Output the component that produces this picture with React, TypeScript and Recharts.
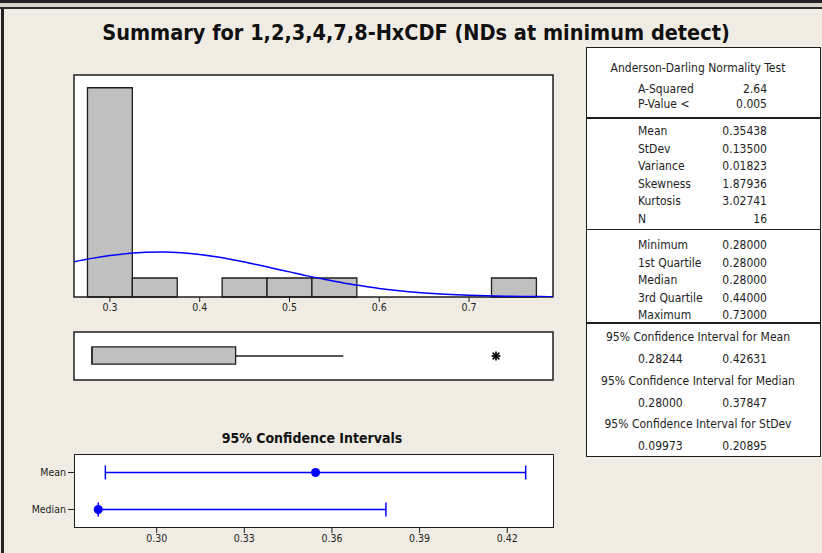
import React from "react";
import {
  ComposedChart,
  ScatterChart,
  Scatter,
  ErrorBar,
  Line,
  XAxis,
  YAxis,
  CartesianGrid,
  ReferenceArea,
  ReferenceLine,
} from "recharts";

// histogram bins (width 0.05) and counts
const binStarts = [0.275, 0.325, 0.375, 0.425, 0.475, 0.525, 0.575, 0.625, 0.675, 0.725];
const binCounts = [11, 1, 0, 1, 1, 1, 0, 0, 0, 1];
const binWidth = 0.05;

// fitted normal curve (in counts)
const curveX = [0.26, 0.28, 0.3, 0.32, 0.34, 0.36, 0.38, 0.4, 0.42, 0.44, 0.46, 0.48, 0.5, 0.52, 0.54, 0.56, 0.58, 0.6, 0.62, 0.64, 0.66, 0.68, 0.7, 0.72, 0.74, 0.76, 0.78, 0.7935];
const curveY = [1.85, 2.03, 2.18, 2.29, 2.35, 2.36, 2.32, 2.23, 2.1, 1.93, 1.74, 1.53, 1.32, 1.11, 0.92, 0.74, 0.59, 0.45, 0.34, 0.25, 0.18, 0.13, 0.09, 0.06, 0.04, 0.03, 0.02, 0.01];

const histDomain = [0.26, 0.7935];
const histTicks = [0.3, 0.4, 0.5, 0.6, 0.7];
const countMax = 11.67;

// boxplot
const boxQ1 = 0.28;
const boxMedian = 0.28;
const boxQ3 = 0.44;
const whiskerLow = 0.28;
const whiskerHigh = 0.56;
const outliers = [0.73];

// confidence intervals
const ciNames = ["Mean", "Median"];
const ciEstimates = [0.35438, 0.28];
const ciLows = [0.28244, 0.28];
const ciHighs = [0.42631, 0.37847];
const ciDomain = [0.2717, 0.436];
const ciTicks = [0.3, 0.33, 0.36, 0.39, 0.42];

// summary table
const adRows = [
  ["A-Squared", "2.64"],
  ["P-Value <", "0.005"],
];
const momentRows = [
  ["Mean", "0.35438"],
  ["StDev", "0.13500"],
  ["Variance", "0.01823"],
  ["Skewness", "1.87936"],
  ["Kurtosis", "3.02741"],
  ["N", "16"],
];
const quantileRows = [
  ["Minimum", "0.28000"],
  ["1st Quartile", "0.28000"],
  ["Median", "0.28000"],
  ["3rd Quartile", "0.44000"],
  ["Maximum", "0.73000"],
];
const ciTableTitles = [
  "95% Confidence Interval for Mean",
  "95% Confidence Interval for Median",
  "95% Confidence Interval for StDev",
];
const ciTableLows = ["0.28244", "0.28000", "0.09973"];
const ciTableHighs = ["0.42631", "0.37847", "0.20895"];

const FONT = "'DejaVu Sans Condensed', 'DejaVu Sans', sans-serif";
const INK = "#1e1e1e";
const BG = "#F0ECE3";

const curveData = curveX.map((x, i) => ({ x, y: curveY[i] }));
const outlierData = outliers.map((x) => ({ x, y: 0.5 }));
const ciData = ciNames.map((name, i) => ({
  name,
  est: ciEstimates[i],
  err: [ciEstimates[i] - ciLows[i], ciHighs[i] - ciEstimates[i]],
}));

const tickStyle = { fontSize: 10.5, fill: INK, fontFamily: FONT };

// Minitab style asterisk for outliers
const Asterisk = (props: any) => {
  const { cx, cy } = props;
  const r = 4.5;
  return (
    <g stroke="#000" strokeWidth={1.6}>
      <line x1={cx} y1={cy - r} x2={cx} y2={cy + r} />
      <line x1={cx - r} y1={cy} x2={cx + r} y2={cy} />
      <line x1={cx - r * 0.75} y1={cy - r * 0.75} x2={cx + r * 0.75} y2={cy + r * 0.75} />
      <line x1={cx - r * 0.75} y1={cy + r * 0.75} x2={cx + r * 0.75} y2={cy - r * 0.75} />
    </g>
  );
};

const TX = 586;
const TY = 47;
const TW = 235;
const TH = 410;

function TText({ x, y, anchor, children }: any) {
  const base: React.CSSProperties = {
    position: "absolute",
    top: y - TY - 8,
    height: 16,
    lineHeight: "16px",
    whiteSpace: "nowrap",
    fontSize: 12,
    color: INK,
  };
  if (anchor === "end") return <div style={{ ...base, right: TX + TW - x }}>{children}</div>;
  if (anchor === "middle")
    return <div style={{ ...base, left: x - TX - 150, width: 300, textAlign: "center" }}>{children}</div>;
  return <div style={{ ...base, left: x - TX }}>{children}</div>;
}

function Divider({ y }: { y: number }) {
  return <div style={{ position: "absolute", left: 0, right: 0, top: y - TY - 1, height: 1.5, background: INK }} />;
}

function SummaryTable() {
  const labelX = 637;
  const valueX = 768;
  const mid = 697;
  return (
    <div
      style={{
        position: "absolute",
        left: TX,
        top: TY,
        width: TW,
        height: TH,
        boxSizing: "border-box",
        border: `1.5px solid ${INK}`,
        background: "#fff",
        fontFamily: FONT,
      }}
    >
      <TText x={mid} y={67} anchor="middle">Anderson-Darling Normality Test</TText>
      {adRows.map(([l, v], i) => (
        <React.Fragment key={l}>
          <TText x={labelX} y={88 + i * 14.5}>{l}</TText>
          <TText x={valueX} y={88 + i * 14.5} anchor="end">{v}</TText>
        </React.Fragment>
      ))}
      <Divider y={117} />
      {momentRows.map(([l, v], i) => (
        <React.Fragment key={l}>
          <TText x={labelX} y={130 + i * 17.6}>{l}</TText>
          <TText x={valueX} y={130 + i * 17.6} anchor="end">{v}</TText>
        </React.Fragment>
      ))}
      <Divider y={228.5} />
      {quantileRows.map(([l, v], i) => (
        <React.Fragment key={l}>
          <TText x={labelX} y={244 + i * 17.5}>{l}</TText>
          <TText x={valueX} y={244 + i * 17.5} anchor="end">{v}</TText>
        </React.Fragment>
      ))}
      <Divider y={322} />
      {ciTableTitles.map((t, i) => (
        <React.Fragment key={t}>
          <TText x={mid} y={336 + i * 43.5} anchor="middle">{t}</TText>
          <TText x={labelX} y={358 + i * 43.5}>{ciTableLows[i]}</TText>
          <TText x={valueX} y={358 + i * 43.5} anchor="end">{ciTableHighs[i]}</TText>
        </React.Fragment>
      ))}
    </div>
  );
}

export default function App() {
  return (
    <div
      style={{
        position: "absolute",
        left: 0,
        top: 0,
        width: 822,
        height: 553,
        background: BG,
        overflow: "hidden",
        fontFamily: FONT,
      }}
    >
      {/* window frame */}
      <div style={{ position: "absolute", left: 0, top: 0, width: 822, height: 3, background: "#222" }} />
      <div style={{ position: "absolute", left: 0, top: 3, width: 822, height: 4, background: "#D9D5CC" }} />
      <div style={{ position: "absolute", left: 0, top: 7, width: 822, height: 2, background: "#2a2a2a" }} />
      <div style={{ position: "absolute", left: 1, top: 7, width: 3, height: 546, background: "#222" }} />

      <div
        style={{
          position: "absolute",
          left: 0,
          top: 20,
          width: 832,
          textAlign: "center",
          fontSize: 21.5,
          fontWeight: "bold",
          color: "#111",
          whiteSpace: "nowrap",
        }}
      >
        Summary for 1,2,3,4,7,8-HxCDF (NDs at minimum detect)
      </div>

      {/* histogram with normal fit */}
      <div style={{ position: "absolute", left: 0, top: 0 }}>
        <ComposedChart width={600} height={330} data={curveData} margin={{ top: 75, left: 74, right: 47, bottom: 8 }}>
          <CartesianGrid fill="#fff" horizontal={false} vertical={false} />
          <XAxis
            dataKey="x"
            type="number"
            domain={histDomain}
            allowDataOverflow
            ticks={histTicks}
            tickFormatter={(v: number) => v.toFixed(1)}
            axisLine={false}
            tickSize={5}
            tickMargin={2}
            tickLine={{ stroke: INK }}
            tick={tickStyle}
            height={25}
          />
          <YAxis type="number" domain={[0, countMax]} hide allowDataOverflow />
          {binStarts.map((s, i) =>
            binCounts[i] > 0 ? (
              <ReferenceArea
                key={s}
                x1={s}
                x2={s + binWidth}
                y1={0}
                y2={binCounts[i]}
                fill="#C0C0C0"
                fillOpacity={1}
                stroke={INK}
                strokeWidth={1.3}
                ifOverflow="visible"
              />
            ) : null
          )}
          <ReferenceArea
            x1={histDomain[0]}
            x2={histDomain[1]}
            y1={0}
            y2={countMax}
            fill="none"
            stroke={INK}
            strokeWidth={1.5}
            ifOverflow="visible"
          />
          <Line
            dataKey="y"
            type="monotone"
            stroke="#0000FF"
            strokeWidth={1.5}
            dot={false}
            isAnimationActive={false}
          />
        </ComposedChart>
      </div>

      {/* boxplot */}
      <div style={{ position: "absolute", left: 0, top: 320 }}>
        <ComposedChart width={600} height={70} margin={{ top: 12, left: 74, right: 47, bottom: 10 }}>
          <CartesianGrid fill="#fff" horizontal={false} vertical={false} />
          <XAxis dataKey="x" type="number" domain={histDomain} allowDataOverflow hide />
          <YAxis dataKey="y" type="number" domain={[0, 1]} hide allowDataOverflow />
          <ReferenceLine
            segment={[
              { x: boxQ3, y: 0.5 },
              { x: whiskerHigh, y: 0.5 },
            ]}
            stroke={INK}
            strokeWidth={1.3}
          />
          <ReferenceLine
            segment={[
              { x: whiskerLow, y: 0.5 },
              { x: boxQ1, y: 0.5 },
            ]}
            stroke={INK}
            strokeWidth={1.3}
          />
          <ReferenceArea x1={boxQ1} x2={boxQ3} y1={0.33} y2={0.69} fill="#C0C0C0" fillOpacity={1} stroke={INK} strokeWidth={1.3} />
          <ReferenceLine
            segment={[
              { x: boxMedian, y: 0.33 },
              { x: boxMedian, y: 0.69 },
            ]}
            stroke={INK}
            strokeWidth={1.3}
          />
          <Scatter data={outlierData} dataKey="y" shape={Asterisk} isAnimationActive={false} />
          <ReferenceArea
            x1={histDomain[0]}
            x2={histDomain[1]}
            y1={0}
            y2={1}
            fill="none"
            stroke={INK}
            strokeWidth={1.5}
            ifOverflow="visible"
          />
        </ComposedChart>
      </div>

      {/* confidence intervals */}
      <div
        style={{
          position: "absolute",
          left: 74,
          width: 476,
          top: 430,
          textAlign: "center",
          fontSize: 14,
          fontWeight: "bold",
          color: "#111",
        }}
      >
        95% Confidence Intervals
      </div>
      <div style={{ position: "absolute", left: 0, top: 430 }}>
        <ScatterChart width={600} height={123} margin={{ top: 24, left: 0, right: 46, bottom: 5 }}>
          <CartesianGrid fill="#fff" horizontal={false} vertical={false} />
          <XAxis
            dataKey="est"
            type="number"
            domain={ciDomain}
            allowDataOverflow
            ticks={ciTicks}
            tickFormatter={(v: number) => v.toFixed(2)}
            axisLine={false}
            tickSize={5}
            tickMargin={2}
            tickLine={{ stroke: INK }}
            tick={tickStyle}
            height={20}
          />
          <YAxis
            dataKey="name"
            type="category"
            allowDuplicatedCategory={false}
            reversed
            width={74}
            axisLine={false}
            tickSize={6}
            tickMargin={2}
            tickLine={{ stroke: INK }}
            tick={tickStyle}
          />
          <Scatter data={ciData} fill="#0000FF" isAnimationActive={false}>
            <ErrorBar dataKey="err" direction="x" width={7} stroke="#0000FF" strokeWidth={1.5} />
          </Scatter>
        </ScatterChart>
      </div>
      <div
        style={{
          position: "absolute",
          left: 74,
          top: 454,
          width: 480,
          height: 74,
          boxSizing: "border-box",
          border: `1.5px solid ${INK}`,
          pointerEvents: "none",
        }}
      />

      <SummaryTable />
    </div>
  );
}
